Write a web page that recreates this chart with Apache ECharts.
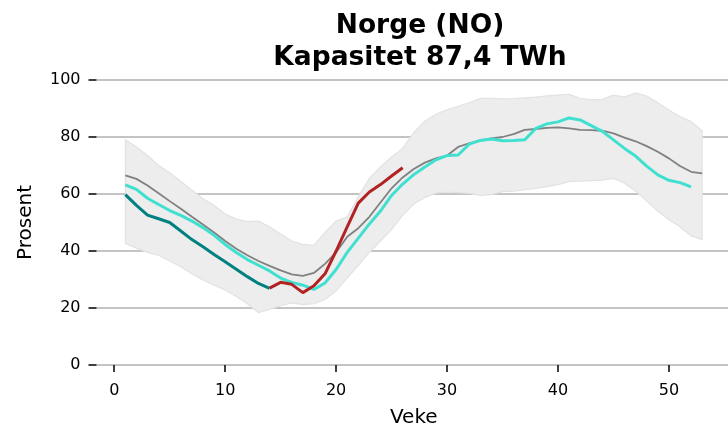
<!DOCTYPE html>
<html>
<head>
<meta charset="utf-8">
<script src="https://cdn.jsdelivr.net/npm/echarts@6/dist/echarts.min.js"></script>
<style>
  html, body { margin: 0; padding: 0; background: #fff; }
  #chart { width: 728px; height: 427px; }
</style>
</head>
<body>
<div id="chart"></div>
<script>
// veker 1-53
var weeks = [1, 2, 3, 4, 5, 6, 7, 8, 9, 10, 11, 12, 13, 14, 15, 16, 17, 18, 19, 20,
  21, 22, 23, 24, 25, 26, 27, 28, 29, 30, 31, 32, 33, 34, 35, 36, 37, 38, 39, 40,
  41, 42, 43, 44, 45, 46, 47, 48, 49, 50, 51, 52, 53]

// min / maks for referanseperioden
var bandMin = [42.7, 41, 39.5, 38.5, 36.5, 34.5, 32, 29.8, 28, 26.3, 24, 21.5, 18.4, 19.5, 20.8, 21.8, 21.2, 21.5, 23, 26,
  30.5, 35, 39.5, 43.5, 47.5, 52.5, 56.5, 58.8, 60.3, 60.7, 60.5, 60.2, 59.5, 59.8, 60.8, 61, 61.5, 62, 62.6, 63.3,
  64.3, 64.5, 64.7, 64.9, 65.5, 63.8, 61, 57.5, 54, 51, 48.5, 45.3, 44]
var bandMax = [79, 76.5, 73.5, 70, 67.5, 64.5, 61.3, 58.3, 56, 53, 51.2, 50.3, 50.5, 48.5, 46, 43.5, 42.3, 42, 46.5, 50.5,
  52, 59, 65.5, 69.5, 73, 76, 81.5, 85.5, 88, 89.5, 90.8, 92, 93.6, 93.6, 93.4, 93.5, 93.7, 94, 94.4, 94.7,
  95, 93.6, 93, 93.2, 94.7, 94, 95.5, 94.4, 92, 89.5, 87.1, 85.4, 82.2]

// median
var median = [66.5, 65.3, 63, 60.3, 57.5, 54.8, 52, 49.3, 46.5, 43.5, 40.8, 38.5, 36.5, 34.8, 33.2, 31.8, 31.3, 32.3, 35.5, 39.5,
  45, 48, 52, 57, 62, 65.8, 68.8, 71, 72.5, 73.5, 76.5, 77.8, 78.8, 79.5, 80, 81, 82.5, 82.8, 83.2, 83.4,
  83, 82.5, 82.4, 82.2, 81.3, 79.8, 78.5, 76.8, 74.8, 72.5, 69.8, 67.8, 67.2]

// forrige år (heile året)
var prevYear = [63.2, 61.6, 58.5, 56.3, 54.2, 52.5, 50.5, 48.2, 45.5, 42.3, 39.5, 37, 35, 33, 30.5, 29, 28, 26.5, 28.8, 33.5,
  39.5, 44.5, 49.5, 54, 59.5, 63.5, 66.8, 69.5, 72, 73.5, 73.7, 77.5, 78.8, 79.3, 78.7, 78.8, 79, 83, 84.6, 85.3,
  86.7, 86, 84, 82, 79, 76, 73.3, 69.8, 66.7, 64.8, 64, 62.5]

// første del av året (veke 1-14)
var earlyWeeks = [1, 2, 3, 4, 5, 6, 7, 8, 9, 10, 11, 12, 13, 14]
var earlyYear = [59.8, 56, 52.6, 51.3, 50, 47, 44, 41.5, 38.8, 36.2, 33.6, 31, 28.6, 26.9]

// inneverande år (veke 14-26)
var curWeeks = [14, 15, 16, 17, 18, 19, 20, 21, 22, 23, 24, 25, 26]
var curYear = [27, 29, 28.3, 25.4, 27.8, 32, 40, 48.5, 56.8, 60.7, 63.3, 66.3, 69.2]

var xTicks = [0, 10, 20, 30, 40, 50]

function pairs(xs, ys) {
  return ys.map(function(v, i) { return [xs[i], v] })
}

var chart = echarts.init(document.getElementById('chart'))
var font = 'DejaVu Sans'

// min-maks-bandet som ein polygon gjennom aksane
function renderBand(params, api) {
  var pts = []
  for (var i = 0; i < weeks.length; i++) {
    pts.push(api.coord([weeks[i], bandMax[i]]))
  }
  for (var j = weeks.length - 1; j >= 0; j--) {
    pts.push(api.coord([weeks[j], bandMin[j]]))
  }
  return {
    type: 'polygon',
    shape: { points: pts },
    style: { fill: '#ededed', stroke: '#e2e2e2', lineWidth: 1.2 },
    silent: true
  }
}

var option = {
  animation: false,
  textStyle: { fontFamily: font },
  title: [
    {
      text: 'Norge (NO)',
      left: 415,
      top: 8,
      textAlign: 'center',
      textStyle: { fontFamily: font, fontSize: 26.5, fontWeight: 'bold', color: '#000' }
    },
    {
      text: 'Kapasitet 87,4 TWh',
      left: 415,
      top: 40,
      textAlign: 'center',
      textStyle: { fontFamily: font, fontSize: 26.5, fontWeight: 'bold', color: '#000' }
    }
  ],
  grid: {
    left: 96.5,
    right: -3,
    top: 80,
    bottom: 62,
    outerBoundsMode: 'none'
  },
  xAxis: {
    type: 'value',
    min: -1.6,
    max: 55.6,
    name: 'Veke',
    nameLocation: 'middle',
    nameGap: 43,
    nameTextStyle: { fontFamily: font, fontSize: 20, color: '#000' },
    axisLine: { show: false, onZero: false },
    axisTick: {
      show: true,
      length: 7,
      lineStyle: { color: '#000', width: 1.5 },
      customValues: xTicks
    },
    axisLabel: {
      fontFamily: font,
      fontSize: 16,
      color: '#000',
      margin: 18,
      customValues: xTicks
    },
    splitLine: { show: false }
  },
  yAxis: {
    type: 'value',
    min: 0,
    max: 100,
    interval: 20,
    name: 'Prosent',
    nameLocation: 'middle',
    nameGap: 61,
    nameTextStyle: { fontFamily: font, fontSize: 20, color: '#000' },
    axisLine: { show: false, onZero: false },
    axisTick: {
      show: true,
      length: 8,
      lineStyle: { color: '#000', width: 1.5 }
    },
    axisLabel: {
      fontFamily: font,
      fontSize: 16,
      color: '#000',
      margin: 16
    },
    splitLine: {
      show: true,
      lineStyle: { color: '#b0b0b0', width: 1.5 }
    }
  },
  series: [
    {
      name: 'band',
      type: 'custom',
      renderItem: renderBand,
      data: [[weeks[0], bandMin[0]]],
      silent: true,
      z: 1
    },
    {
      name: 'median',
      type: 'line',
      symbol: 'none',
      lineStyle: { color: '#808080', width: 1.8 },
      data: pairs(weeks, median),
      z: 2
    },
    {
      name: 'tidleg',
      type: 'line',
      symbol: 'none',
      lineStyle: { color: '#008080', width: 3 },
      data: pairs(earlyWeeks, earlyYear),
      z: 3
    },
    {
      name: 'forrige',
      type: 'line',
      symbol: 'none',
      lineStyle: { color: '#40e0d0', width: 3 },
      data: pairs(weeks, prevYear),
      z: 4
    },
    {
      name: 'no',
      type: 'line',
      symbol: 'none',
      lineStyle: { color: '#b22222', width: 3 },
      data: pairs(curWeeks, curYear),
      z: 5
    }
  ]
}

chart.setOption(option)
window.addEventListener('resize', function() {
  chart.resize()
})
</script>
</body>
</html>
